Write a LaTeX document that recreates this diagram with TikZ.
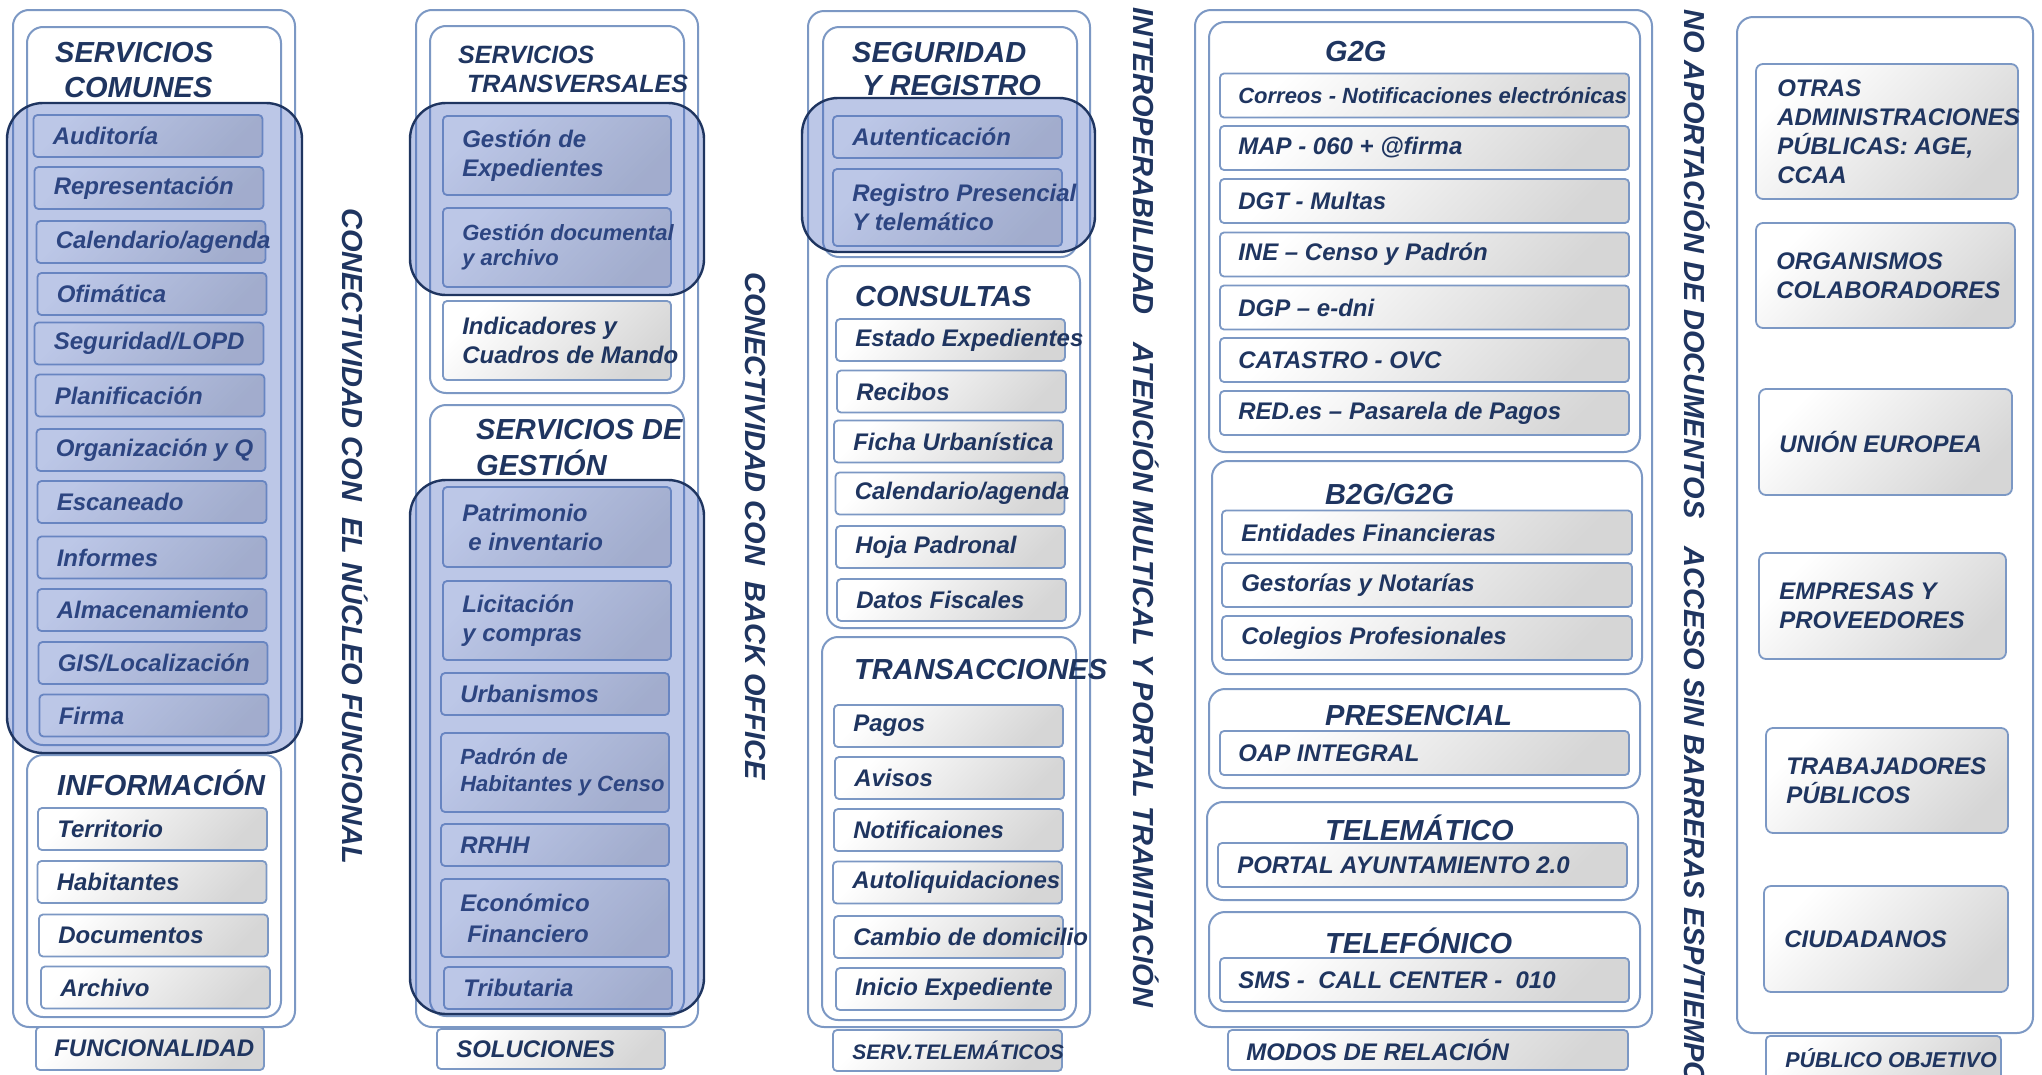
\documentclass[tikz,border=0pt]{standalone}
\usepackage{fontspec}
\setmainfont{Liberation Sans}
\definecolor{navy}{RGB}{31,53,96}
\definecolor{edge}{RGB}{124,152,196}
\definecolor{hlblue}{RGB}{70,100,190}
\definecolor{shadow}{RGB}{214,214,214}
\hyphenpenalty=10000

\begin{document}
\begin{tikzpicture}[x=1pt, y=-1pt]
  \tikzstyle{frame}=[draw=edge, line width=2pt, rounded corners=16pt, fill=white]
  \tikzstyle{item}=[draw=edge, line width=1.8pt, rounded corners=4pt, top color=white, bottom color=shadow, shading angle=45, minimum width=229pt, minimum height=42pt, inner sep=0pt]
  \tikzstyle{hilite}=[draw=navy, line width=2.4pt, rounded corners=36pt, fill=hlblue, fill opacity=0.36]
  \tikzstyle{txt}=[text=navy, font=\bfseries\itshape\fontsize{24}{29}\selectfont, anchor=west, xshift=20pt, align=left, inner sep=0pt]
  \tikzstyle{txts}=[txt, font=\bfseries\itshape\fontsize{22}{25}\selectfont]
  \tikzstyle{ttl}=[text=navy, font=\bfseries\itshape\fontsize{29}{35}\selectfont, anchor=west, align=left, inner sep=0pt]
  \tikzstyle{vert}=[text=navy, font=\bfseries\itshape\fontsize{29}{35}\selectfont, rotate=-90, anchor=west, inner sep=0pt]

  \useasboundingbox (0,0) rectangle (2042,1074);
  \fill[white] (0,0) rectangle (2042,1074);

  % funcionalidad
  \draw[frame] (13,10)  rectangle (295,1027);
  \draw[frame] (27,27)  rectangle (281,745);
  \draw[frame] (27,755) rectangle (281,1017);
  \node[ttl] (comT) at (55,70.5) {SERVICIOS\\\hspace*{9pt}COMUNES};
  \node[item, label={[txt]west:Auditoría}]          (aud) at (148,136)   {};
  \node[item, label={[txt]west:Representación}]     (rep) at (149,188)   {};
  \node[item, label={[txt]west:Calendario/agenda}]  (cal) at (151,242)   {};
  \node[item, label={[txt]west:Ofimática}]          (ofi) at (152,294)   {};
  \node[item, label={[txt]west:Seguridad/LOPD}]     (seg) at (149,343.5) {};
  \node[item, label={[txt]west:Planificación}]      (pla) at (150,395.5) {};
  \node[item, label={[txt]west:Organización y Q}]   (org) at (151,450)   {};
  \node[item, label={[txt]west:Escaneado}]          (esc) at (152,502)   {};
  \node[item, label={[txt]west:Informes}]           (inf) at (152,557.5) {};
  \node[item, label={[txt]west:Almacenamiento}]     (alm) at (152,610)   {};
  \node[item, label={[txt]west:GIS/Localización}]   (gis) at (153,663)   {};
  \node[item, label={[txt]west:Firma}]              (fir) at (154,715.5) {};
  \draw[hilite] (7,103) rectangle (302,753);
  \node[ttl] (infT) at (57,783) {INFORMACIÓN};
  \node[item, label={[txt]west:Territorio}]         (ter) at (152.5,829) {};
  \node[item, label={[txt]west:Habitantes}]         (hab) at (152,882)   {};
  \node[item, label={[txt]west:Documentos}]         (doc) at (153.5,935.5) {};
  \node[item, label={[txt]west:Archivo}]            (arc) at (155.5,987.5) {};
  \node[item, minimum width=228pt, minimum height=43pt, label={[txt, xshift=-1pt]west:FUNCIONALIDAD}] (fun) at (150,1048.5) {};
  \node[vert] (nucleo) at (355,208) {CONECTIVIDAD CON\ \ EL NÚCLEO FUNCIONAL};

  % soluciones
  \draw[frame] (416,10)  rectangle (698,1027);
  \draw[frame] (430,26)  rectangle (684,393);
  \draw[frame] (430,405) rectangle (684,1016);
  \node[ttl, font=\bfseries\itshape\fontsize{25}{29}\selectfont] (traT) at (458,69.5) {SERVICIOS\\\hspace*{9pt}TRANSVERSALES};
  \node[item, minimum width=228pt, minimum height=79pt, label={[txt]west:{Gestión de\\Expedientes}}]          (gex) at (557,155.5) {};
  \node[item, minimum width=228pt, minimum height=79pt, label={[txts]west:{Gestión documental\\y archivo}}]   (gdo) at (557,247.5) {};
  \node[item, minimum width=228pt, minimum height=79pt, label={[txt]west:{Indicadores y\\Cuadros de Mando}}] (ind) at (557,340.5) {};
  \draw[hilite] (410,103) rectangle (704,295);
  \node[ttl, font=\bfseries\itshape\fontsize{29}{36}\selectfont] (gesT) at (476,448) {SERVICIOS DE\\GESTIÓN};
  \node[item, minimum width=228pt, minimum height=80pt, label={[txt]west:{Patrimonio\\\hspace*{6pt}e inventario}}] (pat) at (557,527) {};
  \node[item, minimum width=228pt, minimum height=79pt, label={[txt]west:{Licitación\\y compras}}]          (lic) at (557,620.5) {};
  \node[item, minimum width=228pt, label={[txt]west:Urbanismos}]                                          (urb) at (555,694) {};
  \node[item, minimum width=228pt, minimum height=79pt, label={[txts, font=\bfseries\itshape\fontsize{22}{27}\selectfont]west:{Padrón de\\Habitantes y Censo}}] (pad) at (555,772.5) {};
  \node[item, minimum width=228pt, label={[txt]west:RRHH}]                                                (rrh) at (555,845) {};
  \node[item, minimum width=228pt, minimum height=78pt, label={[txt, font=\bfseries\itshape\fontsize{24}{31}\selectfont]west:{Económico\\\hspace*{7pt}Financiero}}] (eco) at (555,918) {};
  \node[item, minimum width=228pt, label={[txt]west:Tributaria}]                                          (tri) at (558,988) {};
  \draw[hilite] (410,480) rectangle (704,1014);
  \node[item, minimum width=228pt, minimum height=40pt, label={[txt]west:SOLUCIONES}] (sol) at (551,1049) {};
  \node[vert] (back) at (755,272) {CONECTIVIDAD CON\ \ BACK OFFICE};

  % servicios telematicos
  \draw[frame] (808,11)  rectangle (1090,1027);
  \draw[frame] (823,27)  rectangle (1077,257);
  \draw[frame] (827,266) rectangle (1080,628);
  \draw[frame] (822,637) rectangle (1076,1020);
  \node[ttl, font=\bfseries\itshape\fontsize{29}{33}\selectfont] (segT) at (852,69.5) {SEGURIDAD\\\hspace*{10pt}Y REGISTRO};
  \node[item, label={[txt]west:Autenticación}]                                         (aut) at (947.5,137) {};
  \node[item, minimum height=77pt, label={[txt]west:{Registro Presencial\\Y telemático}}] (reg) at (947.5,207.5) {};
  \draw[hilite] (802,98) rectangle (1095,252);
  \node[ttl] (conT) at (855,297) {CONSULTAS};
  \node[item, label={[txt]west:Estado Expedientes}]   (est) at (950.5,340)   {};
  \node[item, label={[txt]west:Recibos}]              (rec) at (951.5,391.5) {};
  \node[item, label={[txt]west:Ficha Urbanística}]    (fic) at (948.5,441.5) {};
  \node[item, label={[txt]west:Calendario/agenda}]    (cld) at (950,493.5)   {};
  \node[item, label={[txt]west:Hoja Padronal}]        (hoj) at (950.5,547)   {};
  \node[item, label={[txt]west:Datos Fiscales}]       (dat) at (951.5,600)   {};
  \node[ttl] (trsT) at (854,670) {TRANSACCIONES};
  \node[item, label={[txt]west:Pagos}]                (pag) at (948.5,726)   {};
  \node[item, label={[txt]west:Avisos}]               (avi) at (949.5,778)   {};
  \node[item, label={[txt]west:Notificaiones}]        (ntf) at (948.5,830)   {};
  \node[item, label={[txt]west:Autoliquidaciones}]    (aul) at (947.5,882.5) {};
  \node[item, label={[txt]west:Cambio de domicilio}]  (cam) at (948.5,937)   {};
  \node[item, label={[txt]west:Inicio Expediente}]    (ini) at (950.5,989)   {};
  \node[item, minimum height=41pt, label={[txt, font=\bfseries\itshape\fontsize{21}{25}\selectfont]west:SERV.TELEMÁTICOS}] (ser) at (947.5,1050.5) {};
  \node[vert] (atencion) at (1146,7) {INTEROPERABILIDAD\hspace{28pt}ATENCIÓN MULTICAL Y PORTAL TRAMITACIÓN};

  % modos de relacion
  \draw[frame] (1195,10)  rectangle (1652,1027);
  \draw[frame] (1209,22)  rectangle (1640,452);
  \draw[frame] (1212,461) rectangle (1642,674);
  \draw[frame] (1209,689) rectangle (1640,788);
  \draw[frame] (1207,802) rectangle (1638,900);
  \draw[frame] (1209,912) rectangle (1640,1011);
  \node[ttl] (g2gT) at (1325,52)  {G2G};
  \node[item, minimum width=409pt, minimum height=44pt, label={[txts, xshift=-1pt]west:Correos - Notificaciones electrónicas}] (cor) at (1424.5,95.5) {};
  \node[item, minimum width=409pt, minimum height=44pt, label={[txt, xshift=-1pt]west:MAP - 060 + @firma}]              (map) at (1424.5,148)   {};
  \node[item, minimum width=409pt, minimum height=44pt, label={[txt, xshift=-1pt]west:DGT - Multas}]                    (dgt) at (1424.5,201)   {};
  \node[item, minimum width=409pt, minimum height=44pt, label={[txt, xshift=-1pt]west:INE -- Censo y Padrón}]           (ine) at (1424.5,254.5) {};
  \node[item, minimum width=409pt, minimum height=44pt, label={[txt, xshift=-1pt]west:DGP -- e-dni}]                    (dgp) at (1424.5,307.5) {};
  \node[item, minimum width=409pt, minimum height=44pt, label={[txt, xshift=-1pt]west:CATASTRO - OVC}]                  (cat) at (1424.5,360)   {};
  \node[item, minimum width=409pt, minimum height=44pt, label={[txt, xshift=-1pt]west:RED.es -- Pasarela de Pagos}]     (red) at (1424.5,413)   {};
  \node[ttl] (b2gT) at (1325,494) {B2G/G2G};
  \node[item, minimum width=410pt, minimum height=44pt, label={[txt]west:Entidades Financieras}]  (ent) at (1427,532.5) {};
  \node[item, minimum width=410pt, minimum height=44pt, label={[txt]west:Gestorías y Notarías}]   (gst) at (1427,585)   {};
  \node[item, minimum width=410pt, minimum height=44pt, label={[txt]west:Colegios Profesionales}] (cop) at (1427,638)   {};
  \node[ttl] (preT) at (1325,716) {PRESENCIAL};
  \node[item, minimum width=409pt, minimum height=44pt, label={[txt, xshift=-1pt]west:OAP INTEGRAL}]             (oap) at (1424.5,753) {};
  \node[ttl] (telT) at (1325,828) {TELEMÁTICO};
  \node[item, minimum width=409pt, minimum height=44pt, label={[txt]west:PORTAL AYUNTAMIENTO 2.0}]              (por) at (1422.5,865) {};
  \node[ttl] (tfnT) at (1325,941) {TELEFÓNICO};
  \node[item, minimum width=409pt, minimum height=44pt, label={[txt, xshift=-1pt]west:SMS -\ \ CALL CENTER -\ \ 010}] (sms) at (1424.5,980) {};
  \node[item, minimum width=400pt, minimum height=40pt, label={[txt, xshift=-1pt]west:MODOS DE RELACIÓN}]        (mod) at (1428,1050) {};
  \node[vert] (acceso) at (1697,9) {NO APORTACIÓN DE DOCUMENTOS\hspace{28pt}ACCESO SIN BARRERAS ESP/TIEMPO};

  % publico objetivo
  \draw[frame] (1737,17) rectangle (2033,1033);
  \node[item, rounded corners=7pt, minimum width=262pt, minimum height=135pt, label={[txt, xshift=2pt]west:{OTRAS\\ADMINISTRACIONES\\PÚBLICAS: AGE,\\CCAA}}] (otr) at (1887,131.5) {};
  \node[item, rounded corners=7pt, minimum width=259pt, minimum height=105pt, label={[txt, xshift=1pt]west:{ORGANISMOS\\COLABORADORES}}] (orc) at (1885.5,275.5) {};
  \node[item, rounded corners=7pt, minimum width=253pt, minimum height=106pt, label={[txt, xshift=1pt]west:UNIÓN EUROPEA}]              (uni) at (1885.5,442) {};
  \node[item, rounded corners=7pt, minimum width=247pt, minimum height=106pt, label={[txt, xshift=1pt]west:{EMPRESAS Y\\PROVEEDORES}}] (emp) at (1882.5,606) {};
  \node[item, rounded corners=7pt, minimum width=242pt, minimum height=105pt, label={[txt, xshift=1pt]west:{TRABAJADORES\\PÚBLICOS}}]  (tra) at (1887,780.5) {};
  \node[item, rounded corners=7pt, minimum width=244pt, minimum height=106pt, label={[txt, xshift=1pt]west:CIUDADANOS}]                 (ciu) at (1886,939) {};
  \node[item, minimum width=235pt, minimum height=44pt, label={[txt, font=\bfseries\itshape\fontsize{21.5}{25}\selectfont]west:PÚBLICO OBJETIVO}] (pub) at (1883.5,1058) {};
\end{tikzpicture}
\end{document}
